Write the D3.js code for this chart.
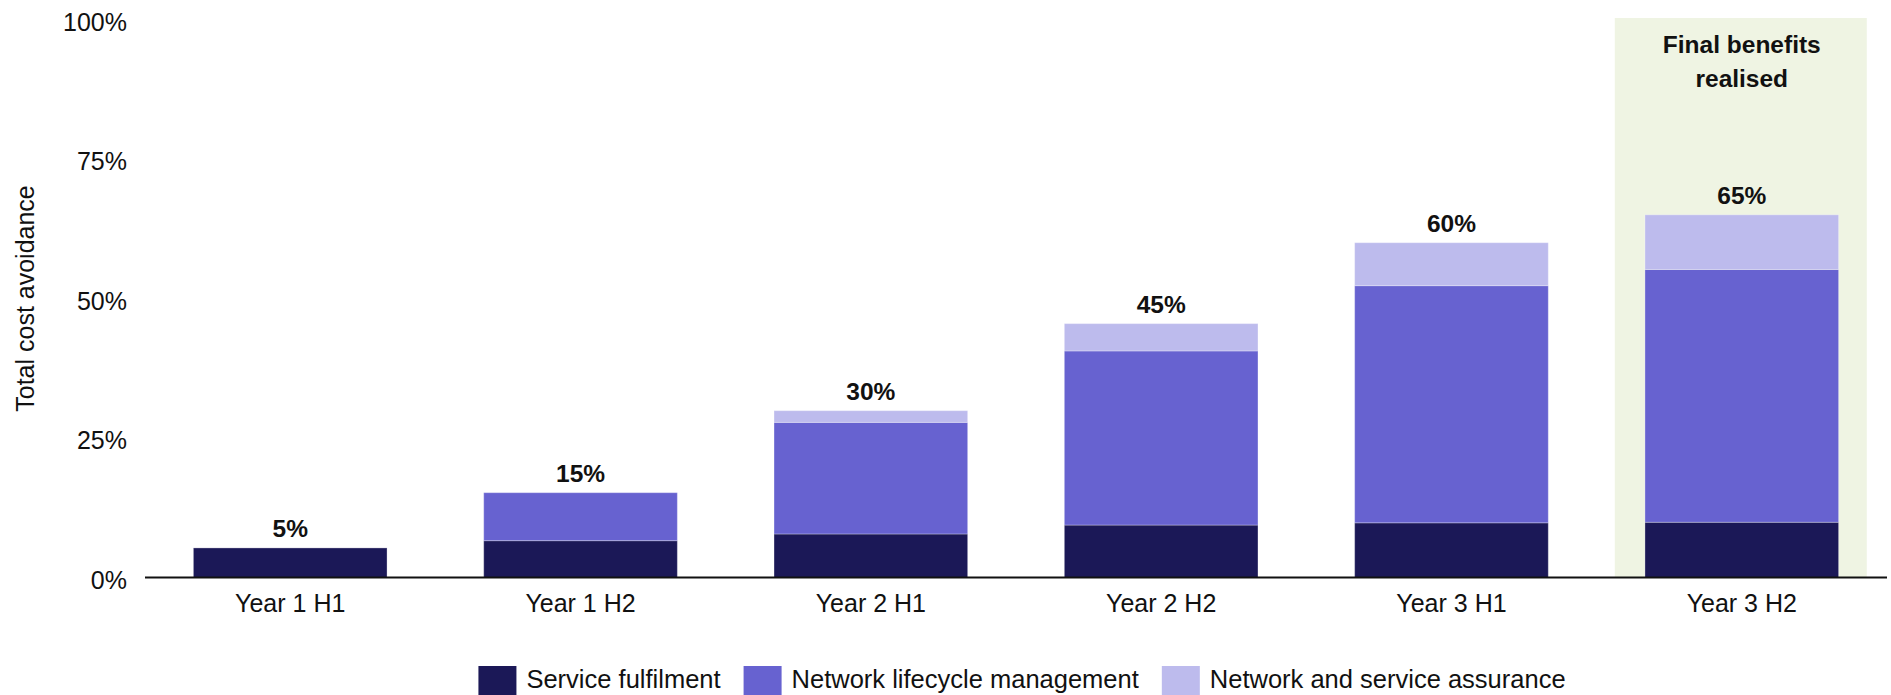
<!DOCTYPE html>
<meta charset='utf-8'>
<style>
body { margin: 0; background: #fff; }
text { font-family: 'Liberation Sans', Arial, sans-serif; fill: #111; }
.axis text { font-size: 25px; }
.axis path { display: none; }
.axis line { display: none; }
.total { font-size: 24.5px; font-weight: bold; }
</style>
<svg width='1891' height='695'></svg>
<script src='https://cdnjs.cloudflare.com/ajax/libs/d3/7.8.5/d3.min.js'></script>
<script>

// categories and series (percent of total cost avoidance)
var categories = ['Year 1 H1', 'Year 1 H2', 'Year 2 H1', 'Year 2 H2', 'Year 3 H1', 'Year 3 H2'];
var seriesNames = ['Service fulfilment', 'Network lifecycle management', 'Network and service assurance'];
var serviceFulfilment = [5.3, 6.6, 7.8, 9.4, 9.8, 9.9];
var lifecycleMgmt = [0, 8.6, 20.0, 31.2, 42.5, 45.3];
var serviceAssurance = [0, 0, 2.1, 4.9, 7.7, 9.8];
var totalLabels = ['5%', '15%', '30%', '45%', '60%', '65%'];
var yTicks = [0, 25, 50, 75, 100];
var highlightCategory = 'Year 3 H2';
var highlightText = ['Final benefits', 'realised'];
var colors = ['#1b1857', '#6762d0', '#bdbbed'];

var svg = d3.select('svg'),
    margin = {top: 19.5, left: 145, right: 4, bottom: 117.5},
    width = +svg.attr('width'),
    height = +svg.attr('height'),
    plotBottom = height - margin.bottom;

var rows = categories.map(function(c, i) {
    return {cat: c, s0: serviceFulfilment[i], s1: lifecycleMgmt[i], s2: serviceAssurance[i], label: totalLabels[i]};
});

var stack = d3.stack().keys(['s0', 's1', 's2'])(rows);

var x = d3.scaleBand()
    .domain(categories)
    .range([margin.left, width - margin.right])
    .paddingInner(0.333)
    .paddingOuter(0.1667);

var y = d3.scaleLinear()
    .domain([0, 100])
    .range([plotBottom, margin.top]);

// highlight column behind the last bar
var hx = x(highlightCategory) + x.bandwidth() / 2;
var hw = x.step() * 0.868;
svg.append('rect')
    .attr('x', hx - hw / 2 - 1)
    .attr('y', y(100) - 1.5)
    .attr('width', hw)
    .attr('height', plotBottom - y(100) + 1.5)
    .attr('fill', '#eff4e3');

svg.append('text')
    .attr('class', 'total')
    .attr('text-anchor', 'middle')
    .selectAll('tspan')
    .data(highlightText)
    .join('tspan')
    .attr('x', hx)
    .attr('y', function(d, i) { return 53 + i * 34; })
    .text(function(d) { return d; });

// stacked bars
svg.append('g')
    .selectAll('g')
    .data(stack)
    .join('g')
    .attr('fill', function(d, i) { return colors[i]; })
    .selectAll('rect')
    .data(function(d) { return d.filter(function(p) { return p[1] - p[0] > 0; }); })
    .join('rect')
    .attr('x', function(d) { return x(d.data.cat); })
    .attr('y', function(d) { return y(d[1]); })
    .attr('width', x.bandwidth())
    .attr('height', function(d) { return y(d[0]) - y(d[1]); })
    .attr('stroke', '#ffffff')
    .attr('stroke-opacity', 0.3)
    .attr('stroke-width', 1);

// totals above bars
svg.append('g')
    .selectAll('text')
    .data(rows)
    .join('text')
    .attr('class', 'total')
    .attr('text-anchor', 'middle')
    .attr('x', function(d) { return x(d.cat) + x.bandwidth() / 2; })
    .attr('y', function(d) { return y(d.s0 + d.s1 + d.s2) - 11; })
    .text(function(d) { return d.label; });

// axes
svg.append('g')
    .attr('class', 'axis')
    .attr('transform', 'translate(' + margin.left + ',0)')
    .call(d3.axisLeft(y).tickValues(yTicks).tickSize(0).tickPadding(18).tickFormat(function(d) { return d + '%'; }))
    .selectAll('text')
    .attr('dy', '0.42em');

svg.append('g')
    .attr('class', 'axis')
    .attr('transform', 'translate(0,' + plotBottom + ')')
    .call(d3.axisBottom(x).tickSize(0).tickPadding(17))
    .selectAll('text')
    .attr('dy', '0.71em');

svg.append('line')
    .attr('x1', margin.left)
    .attr('x2', width - margin.right)
    .attr('y1', plotBottom)
    .attr('y2', plotBottom)
    .attr('stroke', '#111')
    .attr('stroke-width', 2);

svg.append('text')
    .attr('transform', 'translate(34,' + (margin.top + plotBottom) / 2 + ') rotate(-90)')
    .attr('text-anchor', 'middle')
    .attr('font-size', 25)
    .text('Total cost avoidance');

// legend
var legend = svg.append('g');
var lx = 0;
seriesNames.forEach(function(name, i) {
    var g = legend.append('g').attr('transform', 'translate(' + lx + ',0)');
    g.append('rect').attr('x', 0).attr('y', 666).attr('width', 38).attr('height', 36).attr('fill', colors[i]);
    var t = g.append('text').attr('x', 48).attr('y', 688).attr('font-size', 25.5).text(name);
    lx += 48 + t.node().getComputedTextLength() + 23;
});
var legendWidth = lx - 23;
legend.attr('transform', 'translate(' + (1022 - legendWidth / 2) + ',0)');

</script>
